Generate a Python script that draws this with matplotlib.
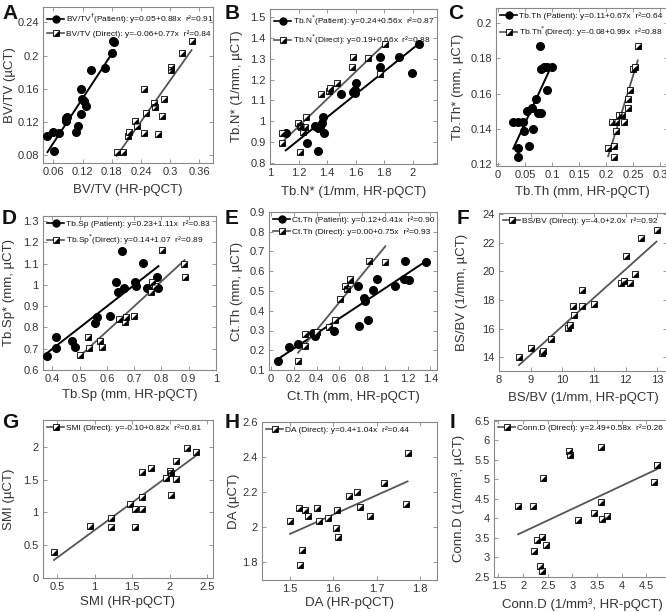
import numpy as np
import matplotlib
matplotlib.use("Agg")
import matplotlib.pyplot as plt
from matplotlib.lines import Line2D
from matplotlib.legend_handler import HandlerTuple
from matplotlib.ticker import FormatStrFormatter

plt.rcParams['font.family'] = ['Liberation Sans', 'DejaVu Sans']

# A: BV/TV
a_pat_x = [0.048, 0.062, 0.060, 0.072, 0.087, 0.087, 0.089, 0.110, 0.107, 0.117, 0.116, 0.118, 0.123, 0.127, 0.137, 0.166, 0.181, 0.183, 0.185]
a_pat_y = [0.103, 0.085, 0.108, 0.107, 0.125, 0.121, 0.126, 0.115, 0.108, 0.130, 0.160, 0.148, 0.145, 0.139, 0.182, 0.185, 0.203, 0.218, 0.216]
a_dir_x = [0.190, 0.203, 0.214, 0.216, 0.227, 0.231, 0.246, 0.247, 0.250, 0.266, 0.269, 0.274, 0.284, 0.288, 0.301, 0.302, 0.324, 0.344]
a_dir_y = [0.084, 0.084, 0.103, 0.108, 0.121, 0.115, 0.107, 0.160, 0.131, 0.143, 0.138, 0.106, 0.127, 0.148, 0.186, 0.182, 0.203, 0.218]

# B: Tb.N
b_pat_x = [1.110, 1.256, 1.315, 1.338, 1.347, 1.336, 1.361, 1.373, 1.378, 1.499, 1.583, 1.594, 1.606, 1.599, 1.769, 1.769, 1.902, 1.995, 2.045]
b_pat_y = [0.947, 0.896, 0.980, 0.967, 0.971, 0.859, 0.991, 1.020, 0.944, 1.131, 1.139, 1.150, 1.182, 1.137, 1.309, 1.262, 1.306, 1.230, 1.368]
b_dir_x = [1.082, 1.086, 1.196, 1.207, 1.219, 1.210, 1.233, 1.245, 1.249, 1.359, 1.413, 1.417, 1.471, 1.576, 1.580, 1.685, 1.774, 1.804]
b_dir_y = [0.947, 0.896, 0.991, 0.979, 0.971, 0.856, 0.948, 0.971, 1.023, 1.131, 1.146, 1.158, 1.182, 1.258, 1.309, 1.301, 1.227, 1.368]

# C: Tb.Th
c_pat_x = [0.028, 0.037, 0.037, 0.037, 0.047, 0.048, 0.057, 0.053, 0.062, 0.064, 0.070, 0.073, 0.079, 0.077, 0.080, 0.085, 0.090, 0.091, 0.099]
c_pat_y = [0.144, 0.129, 0.124, 0.144, 0.144, 0.139, 0.130, 0.150, 0.152, 0.140, 0.157, 0.149, 0.149, 0.187, 0.174, 0.175, 0.162, 0.175, 0.175]
c_dir_x = [0.204, 0.214, 0.215, 0.212, 0.218, 0.218, 0.224, 0.229, 0.233, 0.240, 0.241, 0.244, 0.250, 0.253, 0.259]
c_dir_y = [0.129, 0.124, 0.130, 0.144, 0.144, 0.139, 0.148, 0.148, 0.144, 0.152, 0.157, 0.162, 0.174, 0.175, 0.187]

# D: Tb.Sp
d_pat_x = [0.382, 0.413, 0.413, 0.473, 0.485, 0.558, 0.565, 0.610, 0.632, 0.640, 0.656, 0.664, 0.731, 0.703, 0.707, 0.747, 0.785, 0.789]
d_pat_y = [0.666, 0.757, 0.702, 0.738, 0.707, 0.823, 0.848, 0.854, 1.012, 0.965, 1.161, 0.984, 1.101, 1.012, 0.996, 0.984, 1.039, 0.984]
d_dir_x = [0.500, 0.531, 0.535, 0.576, 0.582, 0.644, 0.667, 0.670, 0.698, 0.761, 0.764, 0.777, 0.801, 0.882, 0.885]
d_dir_y = [0.671, 0.757, 0.702, 0.737, 0.707, 0.838, 0.824, 0.851, 0.854, 0.968, 1.015, 0.995, 1.164, 1.098, 1.039]

# E: Ct.Th
e_pat_x = [0.062, 0.155, 0.237, 0.366, 0.390, 0.551, 0.765, 0.776, 0.814, 0.823, 0.852, 0.896, 0.931, 1.093, 1.166, 1.210, 1.175, 1.360]
e_pat_y = [0.147, 0.217, 0.230, 0.287, 0.272, 0.295, 0.525, 0.322, 0.463, 0.450, 0.353, 0.503, 0.563, 0.525, 0.563, 0.558, 0.650, 0.647]
e_dir_x = [0.237, 0.296, 0.302, 0.404, 0.507, 0.559, 0.609, 0.653, 0.668, 0.691, 0.697, 0.858, 1.005]
e_dir_y = [0.147, 0.283, 0.220, 0.292, 0.320, 0.355, 0.462, 0.525, 0.508, 0.555, 0.563, 0.650, 0.647]

# F: BS/BV
f_dir_x = [8.63, 9.02, 9.35, 9.39, 9.65, 10.18, 10.24, 10.35, 10.37, 10.61, 10.63, 11.00, 11.84, 11.95, 12.02, 12.14, 12.28, 12.49, 12.97]
f_dir_y = [14.00, 14.63, 14.28, 14.47, 15.28, 16.07, 16.26, 17.60, 16.95, 18.70, 17.60, 17.72, 19.16, 19.35, 21.10, 19.16, 19.80, 22.30, 22.88]

# G: SMI
g_dir_x = [0.456, 0.944, 1.216, 1.216, 1.469, 1.536, 1.536, 1.638, 1.638, 1.638, 1.749, 1.958, 2.002, 2.024, 2.024, 2.091, 2.091, 2.238, 2.358]
g_dir_y = [0.391, 0.787, 0.777, 0.914, 1.132, 1.050, 0.777, 1.050, 1.234, 1.614, 1.685, 1.523, 1.635, 1.599, 1.269, 1.787, 1.508, 1.980, 1.919]

# H: DA
h_dir_x = [1.500, 1.521, 1.534, 1.542, 1.562, 1.566, 1.587, 1.607, 1.608, 1.610, 1.637, 1.655, 1.662, 1.685, 1.717, 1.768, 1.772, 1.528, 1.524]
h_dir_y = [2.035, 2.111, 2.098, 2.064, 2.111, 2.035, 2.050, 1.993, 2.098, 1.940, 2.177, 2.202, 2.117, 2.064, 2.249, 2.130, 2.420, 1.870, 1.785]

# I: Conn.D
i_dir_x = [1.90, 2.21, 2.41, 2.29, 2.38, 2.46, 2.22, 2.34, 2.39, 2.93, 2.95, 3.12, 3.44, 3.59, 3.61, 3.71, 3.59, 4.66, 4.72]
i_dir_y = [4.31, 4.31, 5.03, 3.46, 3.52, 3.33, 3.16, 2.78, 2.65, 5.73, 5.63, 3.95, 4.14, 4.41, 3.99, 4.06, 5.84, 4.93, 5.37]

W, H = 666, 612
GRAY = '#555555'
TXT = '#333333'
TRI = [(1, -1), (1, 1), (-1, -1)]

fig = plt.figure(figsize=(W / 100, H / 100), dpi=100)


def panel(box, xlim, ylim, xticks, yticks, xlabel, ylabel, ylab_x, xlab_y, letter, letter_xy):
    l, t, r, b = box
    ax = fig.add_axes([l / W, 1 - b / H, (r - l) / W, (b - t) / H])
    ax.set_xlim(xlim)
    ax.set_ylim(ylim)
    ax.set_xticks(xticks)
    ax.set_yticks(yticks)
    ax.xaxis.set_major_formatter(FormatStrFormatter('%g'))
    ax.yaxis.set_major_formatter(FormatStrFormatter('%g'))
    ax.tick_params(direction='in', top=True, right=True, length=3, width=0.6,
                   color='#888888', labelsize=8, labelcolor=TXT, pad=3)
    for s in ax.spines.values():
        s.set_color('#888888')
        s.set_linewidth(0.8)
    ax.set_xlabel(xlabel, fontsize=9.5, color=TXT)
    ax.set_ylabel(ylabel, fontsize=9.5, color=TXT)
    ax.xaxis.set_label_coords(0.5, (b - xlab_y) / (b - t))
    ax.xaxis.label.set_va('center')
    ax.yaxis.set_label_coords((ylab_x - l) / (r - l), 0.5)
    ax.yaxis.label.set_va('center')
    fig.text(letter_xy[0] / W, 1 - letter_xy[1] / H, letter, ha='left', va='top',
             fontsize=15, fontweight='bold', color='#111111')
    return ax


def fit_line(ax, x, y, color, lw):
    x = np.asarray(x)
    c = np.polyfit(x, np.asarray(y), 1)
    xs = np.array([x.min(), x.max()])
    ax.plot(xs, np.polyval(c, xs), color=color, lw=lw, zorder=2)


def patient(ax, x, y):
    fit_line(ax, x, y, 'black', 1.4)
    ax.plot(x, y, 'o', color='black', ms=5.5, zorder=3)


def direct(ax, x, y):
    fit_line(ax, x, y, GRAY, 1.3)
    ax.plot(x, y, 's', mfc='white', mec='black', mew=0.6, ms=5, zorder=3)
    ax.plot(x, y, ls='none', marker=TRI, color='black', mew=0, ms=4.4, zorder=4)


def pat_handle():
    return Line2D([], [], color='black', lw=1.2, marker='o', ms=5)


def dir_handle():
    return (Line2D([], [], color=GRAY, lw=1.2, marker='s', mfc='white', mec='black', mew=0.6, ms=4.8),
            Line2D([], [], ls='none', marker=TRI, color='black', mew=0, ms=4.2))


def legend(ax, handles, labels):
    leg = ax.legend(handles, labels, loc='upper left', bbox_to_anchor=(0, 1), frameon=False,
                    fontsize=6.0, handlelength=2.0, handletextpad=0.3, borderaxespad=0.3,
                    borderpad=0.2, labelspacing=0.55, numpoints=1,
                    handler_map={tuple: HandlerTuple(ndivide=1)})
    for tx in leg.get_texts():
        tx.set_color('#111111')


# A
ax = panel((43, 7, 213, 163), (0.0388, 0.388), (0.0707, 0.2584),
           np.arange(0.06, 0.37, 0.06), np.arange(0.08, 0.25, 0.04),
           'BV/TV (HR-pQCT)', 'BV/TV (µCT)', 10, 190, 'A', (2, 4))
patient(ax, a_pat_x, a_pat_y)
direct(ax, a_dir_x, a_dir_y)
legend(ax, [pat_handle(), dir_handle()],
       [r'BV/TV$^{\dagger}$(Patient): y=0.05+0.88x  r²=0.91',
        r'BV/TV (Direct): y=-0.06+0.77x  r²=0.84'])

# B
ax = panel((270, 9, 437, 164), (1.0, 2.17), (0.7967, 1.5368),
           np.arange(1.0, 2.01, 0.2), np.arange(0.8, 1.51, 0.1),
           'Tb.N* (1/mm, HR-pQCT)', 'Tb.N* (1/mm, µCT)', 237, 192, 'B', (225, 4))
patient(ax, b_pat_x, b_pat_y)
direct(ax, b_dir_x, b_dir_y)
legend(ax, [pat_handle(), dir_handle()],
       [r'Tb.N$^{*}$(Patient): y=0.24+0.56x  r²=0.87',
        r'Tb.N$^{*}$(Direct): y=0.19+0.66x  r²=0.88'])

# C
ax = panel((496, 8, 668, 166), (-0.004, 0.315), (0.1189, 0.2087),
           np.arange(0, 0.31, 0.05), np.arange(0.12, 0.201, 0.02),
           'Tb.Th (mm, HR-pQCT)', 'Tb.Th* (mm, µCT)', 458, 192, 'C', (448, 4))
patient(ax, c_pat_x, c_pat_y)
direct(ax, c_dir_x, c_dir_y)
legend(ax, [pat_handle(), dir_handle()],
       [r'Tb.Th (Patient): y=0.11+0.67x  r²=0.64',
        r'Tb.Th$^{*}$(Direct): y=-0.08+0.99x  r²=0.88'])

# D
ax = panel((43, 216, 216, 370), (0.366, 1.0), (0.6, 1.3235),
           np.arange(0.4, 1.01, 0.1), np.arange(0.6, 1.31, 0.1),
           'Tb.Sp (mm, HR-pQCT)', 'Tb.Sp* (mm, µCT)', 9, 395, 'D', (2, 209))
patient(ax, d_pat_x, d_pat_y)
direct(ax, d_dir_x, d_dir_y)
legend(ax, [pat_handle(), dir_handle()],
       [r'Tb.Sp (Patient): y=0.23+1.11x  r²=0.83',
        r'Tb.Sp$^{*}$(Direct): y=0.14+1.07  r²=0.89'])

# E
ax = panel((269, 212, 437, 370), (-0.018, 1.459), (0.1, 0.9),
           np.arange(0, 1.41, 0.2), np.arange(0.1, 0.91, 0.1),
           'Ct.Th (mm, HR-pQCT)', 'Ct.Th (mm, µCT)', 237, 397, 'E', (225, 209))
patient(ax, e_pat_x, e_pat_y)
direct(ax, e_dir_x, e_dir_y)
legend(ax, [pat_handle(), dir_handle()],
       [r'Ct.Th (Patient): y=0.12+0.41x  r²=0.90',
        r'Ct.Th (Direct): y=0.00+0.75x  r²=0.93'])

# F
ax = panel((499, 213, 667, 371), (8.0, 13.3), (13.04, 24.07),
           np.arange(8, 14), np.arange(14, 25, 2),
           'BS/BV (1/mm, HR-pQCT)', 'BS/BV (1/mm, µCT)', 462, 398, 'F', (457, 209))
direct(ax, f_dir_x, f_dir_y)
legend(ax, [dir_handle()], [r'BS/BV (Direct): y=-4.0+2.0x  r²=0.92'])

# G
ax = panel((43, 420, 213, 578), (0.31, 2.58), (0, 2.41),
           np.arange(0.5, 2.51, 0.5), np.arange(0, 2.01, 0.5),
           'SMI (HR-pQCT)', 'SMI (µCT)', 9, 602, 'G', (2, 413))
direct(ax, g_dir_x, g_dir_y)
legend(ax, [dir_handle()], [r'SMI (Direct): y=-0.10+0.82x  r²=0.81'])

# H
ax = panel((262, 422, 437, 580), (1.435, 1.84), (1.697, 2.6),
           np.arange(1.5, 1.81, 0.1), np.arange(1.8, 2.61, 0.2),
           'DA (HR-pQCT)', 'DA (µCT)', 234, 603, 'H', (225, 413))
direct(ax, h_dir_x, h_dir_y)
legend(ax, [dir_handle()], [r'DA (Direct): y=0.4+1.04x  r²=0.44'])

# I
ax = panel((494, 420, 671, 577), (1.41, 5.0), (2.5, 6.52),
           np.arange(1.5, 5.01, 0.5), np.arange(2.5, 6.51, 0.5),
           'Conn.D (1/mm³, HR-pQCT)', 'Conn.D (1/mm³, µCT)', 459, 605, 'I', (450, 413))
direct(ax, i_dir_x, i_dir_y)
legend(ax, [dir_handle()], [r'Conn.D (Direct): y=2.49+0.58x  r²=0.26'])

fig.savefig('out.png', dpi=100)
